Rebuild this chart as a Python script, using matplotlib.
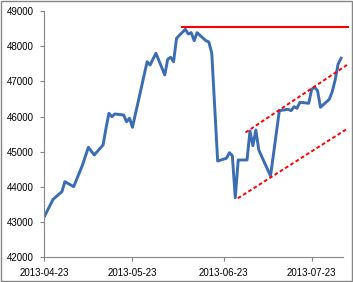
import pandas as pd
import matplotlib
matplotlib.use("Agg")
import matplotlib.pyplot as plt
import matplotlib.dates as mdates
from matplotlib.patches import Rectangle

plt.rcParams['font.family'] = ['Liberation Sans', 'DejaVu Sans']

#------ index series
dates = ['2013-04-23', '2013-04-26', '2013-04-29', '2013-04-30', '2013-05-03',
         '2013-05-06', '2013-05-08', '2013-05-10', '2013-05-13', '2013-05-14',
         '2013-05-15', '2013-05-16', '2013-05-17', '2013-05-20', '2013-05-21',
         '2013-05-22', '2013-05-23', '2013-05-28', '2013-05-29', '2013-05-31',
         '2013-06-03', '2013-06-04', '2013-06-05', '2013-06-06', '2013-06-07',
         '2013-06-10', '2013-06-11', '2013-06-12', '2013-06-13', '2013-06-14',
         '2013-06-17', '2013-06-18', '2013-06-19', '2013-06-21', '2013-06-24',
         '2013-06-25', '2013-06-26', '2013-06-27', '2013-06-28', '2013-07-01',
         '2013-07-02', '2013-07-03', '2013-07-04', '2013-07-05', '2013-07-09',
         '2013-07-12', '2013-07-15', '2013-07-16', '2013-07-17', '2013-07-18',
         '2013-07-19', '2013-07-22', '2013-07-23', '2013-07-24', '2013-07-25',
         '2013-07-26', '2013-07-29', '2013-07-30', '2013-07-31', '2013-08-01',
         '2013-08-02']
values = [43154, 43649, 43865, 44149, 44007,
          44623, 45126, 44908, 45192, 45666,
          46093, 45996, 46073, 46044, 45854,
          45951, 45695, 47559, 47465, 47798,
          47181, 47627, 47684, 47559, 48224,
          48480, 48346, 48383, 48156, 48383,
          48156, 48119, 47798, 44737, 44814,
          44973, 44888, 43694, 44765, 44765,
          45590, 45172, 45618, 45050, 44311,
          46167, 46206, 46167, 46280, 46235,
          46405, 46377, 46775, 46832, 46735,
          46263, 46490, 46707, 47039, 47494,
          47656]

#------ drawn lines: resistance level and trend channel
resist_x = ['2013-06-08 22:00', '2013-08-04 07:00']
resist_y = [48531, 48531]
upper_x = ['2013-06-30 12:00', '2013-08-04 00:00']
upper_y = [45547, 47465]
lower_x = ['2013-06-27 21:00', '2013-08-03 17:00']
lower_y = [43677, 45632]

yticks = [42000, 43000, 44000, 45000, 46000, 47000, 48000, 49000]
xticks = ['2013-04-23', '2013-05-23', '2013-06-23', '2013-07-23']

fig = plt.figure(figsize=(3.53, 2.82), dpi=100)
ax = fig.add_axes([0.1255, 0.0876, 0.8455, 0.8735])

ax.plot(pd.to_datetime(dates), values, color='#3B6DB3', lw=2.1, solid_joinstyle='round')
ax.plot(pd.to_datetime(resist_x), resist_y, color='#FF0000', lw=1.5, clip_on=False)
dash = (0, (1.9, 1.3))
ax.plot(pd.to_datetime(upper_x), upper_y, color='#FF0000', lw=1.4, ls=dash, clip_on=False)
ax.plot(pd.to_datetime(lower_x), lower_y, color='#FF0000', lw=1.4, ls=dash, clip_on=False)

ax.set_xlim(pd.Timestamp('2013-04-23'), pd.Timestamp('2013-08-02 14:00'))
ax.set_ylim(42000, 49000)
ax.set_yticks(yticks)
ax.set_xticks(pd.to_datetime(xticks))
ax.xaxis.set_major_formatter(mdates.DateFormatter('%Y-%m-%d'))

for s in ['top', 'right']:
    ax.spines[s].set_visible(False)
for s in ['left', 'bottom']:
    ax.spines[s].set_color('#868686')
    ax.spines[s].set_linewidth(0.8)
ax.tick_params(axis='both', direction='out', length=3, width=0.8, color='#868686',
               labelsize=7, labelcolor='black')
ax.tick_params(axis='y', pad=4.3)
ax.tick_params(axis='x', pad=4.5)

# рамка навколо всієї діаграми
fig.patches.append(Rectangle((0.002, 0.004), 0.994, 0.993, transform=fig.transFigure,
                             fill=False, edgecolor='#868686', lw=1.0))

fig.savefig('out.png', dpi=100)
